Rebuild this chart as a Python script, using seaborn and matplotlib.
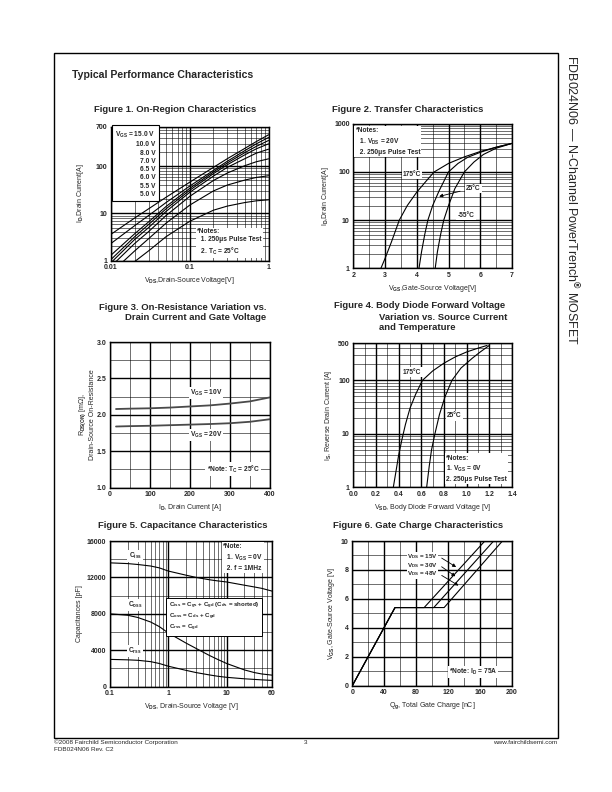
import numpy as np
import pandas as pd
import matplotlib
matplotlib.use("Agg")
import matplotlib.pyplot as plt
from matplotlib.ticker import NullFormatter
from matplotlib.patches import Rectangle
import seaborn as sns

# Figure 1: on-region characteristics (Vds [V] vs Id [A]) per Vgs
vds1 = [0.01, 0.02, 0.03, 0.05, 0.1, 0.2, 0.3, 0.5, 0.7, 1.0]
vgs1_names = ["15.0 V", "10.0 V", "8.0 V", "7.0 V", "6.5 V", "6.0 V", "5.5 V", "5.0 V"]
id1_15 = [3.6, 8.0, 12.5, 22, 46, 95, 145, 240, 335, 466]
id1_10 = [2.3, 5.5, 9.0, 17, 38, 82, 128, 215, 300, 409]
id1_8 = [1.3, 3.7, 6.6, 14, 34, 76, 118, 195, 265, 353]
id1_7 = [1.05, 3.2, 5.8, 12.5, 31, 70, 108, 175, 235, 300]
id1_65 = [0.9, 2.8, 5.0, 11, 28, 62, 95, 145, 190, 231]
id1_6 = [0.75, 2.3, 4.1, 9, 23, 50, 72, 103, 125, 144]
id1_55 = [0.55, 1.6, 2.9, 6.2, 15, 30, 40, 51, 58, 63]
id1_5 = [0.35, 0.95, 1.6, 3.2, 6.8, 11.7, 14.3, 17, 18.5, 19.4]

# Figure 2: transfer characteristics (Vgs [V] vs Id [A])
vgs2_175 = [2.87, 3.0, 3.2, 3.45, 3.7, 4.0, 4.3, 4.55, 5.0, 5.5, 6.0, 6.5, 7.0]
id2_175 = [1, 1.6, 3.5, 10, 20, 38, 65, 100, 150, 205, 265, 325, 390]
vgs2_25 = [4.07, 4.15, 4.25, 4.35, 4.5, 4.7, 5.0, 5.3, 5.6, 6.0, 6.5, 7.0]
id2_25 = [1, 2.2, 5, 10, 20, 40, 100, 150, 200, 255, 325, 390]
vgs2_m55 = [4.58, 4.65, 4.75, 4.85, 5.0, 5.2, 5.5, 5.8, 6.1, 6.5, 7.0]
id2_m55 = [1, 2.2, 5, 10, 20, 45, 100, 160, 230, 310, 390]

# Figure 3: on-resistance vs drain current
id3 = [15, 50, 100, 150, 200, 250, 300, 350, 400]
rds3_10v = [2.08, 2.085, 2.09, 2.10, 2.115, 2.13, 2.155, 2.185, 2.24]
rds3_20v = [1.84, 1.845, 1.85, 1.858, 1.866, 1.874, 1.885, 1.905, 1.94]

# Figure 4: body diode forward voltage (Vsd [V] vs Is [A])
vsd4_175 = [0.353, 0.38, 0.40, 0.43, 0.46, 0.50, 0.55, 0.61, 0.70, 0.80, 0.90, 1.00, 1.10, 1.18]
is4_175 = [1, 2.2, 4.0, 8, 15, 30, 55, 100, 150, 210, 275, 340, 400, 450]
vsd4_25 = [0.647, 0.67, 0.69, 0.72, 0.76, 0.81, 0.87, 0.95, 1.05, 1.12, 1.2]
is4_25 = [1, 2.5, 5, 10, 23, 50, 100, 170, 260, 340, 450]

# Figure 5: capacitance (Vds [V] vs C [pF])
vds5 = [0.1, 0.2, 0.3, 0.5, 0.7, 1, 2, 3, 5, 7, 10, 20, 30, 40, 60]
ciss5 = [13600, 13520, 13420, 13250, 13050, 12700, 12250, 12000, 11750, 11620, 11500, 11150, 10950, 10800, 10500]
coss5 = [8000, 7850, 7600, 7100, 6600, 5900, 4800, 4200, 3450, 3000, 2550, 1850, 1550, 1400, 1270]
crss5 = [3000, 2950, 2900, 2750, 2550, 2250, 1800, 1550, 1300, 1150, 1030, 870, 800, 750, 690]

# Figure 6: gate charge (Qg [nC] vs Vgs [V])
qg6_15 = [0, 53.5, 90, 166]
qg6_30 = [0, 53.5, 102, 177]
qg6_48 = [0, 53.5, 115, 188]
vgs6 = [0, 5.4, 5.4, 10]

# ---- style ----
sns.set_style("white")
plt.rcParams['font.family'] = ['Liberation Sans', 'DejaVu Sans']
plt.rcParams['font.weight'] = 'bold'
plt.rcParams['mathtext.fontset'] = 'custom'
plt.rcParams['mathtext.rm'] = 'Liberation Sans:bold'
plt.rcParams['mathtext.it'] = 'Liberation Sans:bold'
plt.rcParams['mathtext.bf'] = 'Liberation Sans:bold'

W, H = 612, 792
fig = plt.figure(figsize=(W / 100, H / 100), dpi=100)
FS = 5.0
WHITE = dict(facecolor='white', edgecolor='none', pad=0.8)


def px_axes(l, t, r, b):
    return fig.add_axes([l / W, 1 - b / H, (r - l) / W, (b - t) / H])


def px_text(x, y, s, **kw):
    return fig.text(x / W, 1 - y / H, s, **kw)


def frame(ax, xmaj, xmin, ymaj, ymin, xlabels=None, ylabels=None):
    ax.set_xticks(xmaj, labels=xlabels)
    ax.set_xticks(xmin, minor=True)
    ax.set_yticks(ymaj, labels=ylabels)
    ax.set_yticks(ymin, minor=True)
    ax.xaxis.set_minor_formatter(NullFormatter())
    ax.yaxis.set_minor_formatter(NullFormatter())
    ax.tick_params(which='both', length=0, labelsize=FS)
    ax.tick_params(axis='x', pad=2.6)
    ax.tick_params(axis='y', pad=2.6)
    ax.grid(which='major', color='black', lw=1.0)
    ax.grid(which='minor', color='black', lw=0.4)
    ax.set_axisbelow(True)
    for sp in ax.spines.values():
        sp.set_linewidth(1.0)
        sp.set_color('black')


def curves(ax, xs, ys, names, color='black', lw=0.8):
    df = pd.concat([pd.DataFrame({'x': x, 'y': y, 'c': n}) for x, y, n in zip(xs, ys, names)])
    sns.lineplot(data=df, x='x', y='y', hue='c', palette=[color] * len(names),
                 estimator=None, sort=False, legend=False, lw=lw, ax=ax)


# page frame and headers
fig.patches.append(Rectangle((54 / W, 1 - 738 / H), (558 - 54) / W, (738 - 53) / H,
                             transform=fig.transFigure, fill=False, lw=1.0, ec='black'))
px_text(72, 75, "Typical Performance Characteristics", fontsize=7.6, va='center')
px_text(572, 200, "FDB024N06 — N-Channel PowerTrench$^{®}$ MOSFET", fontsize=9.0,
        rotation=-90, ha='center', va='center', fontweight='normal')
px_text(54, 742, "©2008 Fairchild Semiconductor Corporation", fontsize=4.6, va='center', fontweight='normal')
px_text(54, 749.5, "FDB024N06 Rev. C2", fontsize=4.6, va='center', fontweight='normal')
px_text(306, 743, "3", fontsize=4.6, va='center', ha='center', fontweight='normal')
px_text(557, 742, "www.fairchildsemi.com", fontsize=4.6, va='center', ha='right', fontweight='normal')

# ---- Figure 1 ----
ax1 = px_axes(111, 126.5, 268.5, 260.5)
ax1.set_xscale('log')
ax1.set_yscale('log')
curves(ax1, [vds1] * 8, [id1_15, id1_10, id1_8, id1_7, id1_65, id1_6, id1_55, id1_5], vgs1_names)
ax1.set_xlim(0.01, 1)
ax1.set_ylim(1, 700)
frame(ax1, [0.01, 0.1, 1], [m * d for d in (0.01, 0.1) for m in range(2, 10)],
      [1, 10, 100, 700], [m * d for d in (1, 10, 100) for m in range(2, 10) if m * d < 700],
      ['0.01', '0.1', '1'], ['1', '10', '100', '700'])
ax1.set_xlabel(r"V$_{\rm DS}$,Drain-Source Voltage[V]", fontsize=FS, labelpad=3)
ax1.set_ylabel(r"I$_{\rm D}$,Drain Current[A]", fontsize=FS, labelpad=7)
ax1.text(0.0365, 590, "V$_{\\rm GS}$ = " + "\n".join(vgs1_names), fontsize=4.8, ha='right', va='top',
         multialignment='right', linespacing=1.25,
         bbox=dict(facecolor='white', edgecolor='black', lw=0.8, boxstyle='square,pad=0.5'))
ax1.text(0.125, 5.0, "*Notes:\n  1. 250μs Pulse Test\n  2. T$_{\\rm C}$ = 25°C", fontsize=4.8,
         ha='left', va='top', linespacing=1.35, bbox=WHITE)
px_text(94.5, 109, "Figure 1. On-Region Characteristics", fontsize=6.8, va='center')

# ---- Figure 2 ----
ax2 = px_axes(353.3, 123.7, 512, 268.3)
ax2.set_yscale('log')
curves(ax2, [vgs2_175, vgs2_25, vgs2_m55], [id2_175, id2_25, id2_m55], ['175', '25', '-55'])
ax2.set_xlim(2, 7)
ax2.set_ylim(1, 1000)
frame(ax2, [2, 3, 4, 5, 6, 7], [2.5, 3.5, 4.5, 5.5, 6.5],
      [1, 10, 100, 1000], [m * d for d in (1, 10, 100) for m in range(2, 10)],
      ['2', '3', '4', '5', '6', '7'], ['1', '10', '100', '1000'])
ax2.set_xlabel(r"V$_{\rm GS}$,Gate-Source Voltage[V]", fontsize=FS, labelpad=3)
ax2.set_ylabel(r"I$_{\rm D}$,Drain Current[A]", fontsize=FS, labelpad=2)
ax2.text(2.07, 850, "*Notes:\n  1. V$_{\\rm DS}$ = 20V\n  2. 250μs Pulse Test", fontsize=4.8,
         ha='left', va='top', linespacing=1.35, bbox=WHITE)
ax2.text(3.85, 88, "175°C", fontsize=4.8, ha='center', va='center', bbox=WHITE)
ax2.text(5.78, 46, "25°C", fontsize=4.8, ha='center', va='center', bbox=WHITE)
ax2.text(5.55, 12.5, "-55°C", fontsize=4.8, ha='center', va='center', bbox=WHITE)
ax2.annotate("", xy=(4.62, 30), xytext=(5.45, 41),
             arrowprops=dict(arrowstyle='-|>', color='black', lw=0.6, mutation_scale=5))
px_text(331.7, 109, "Figure 2. Transfer Characteristics", fontsize=6.8, va='center')

# ---- Figure 3 ----
ax3 = px_axes(110, 342, 270, 487.7)
curves(ax3, [id3, id3], [rds3_10v, rds3_20v], ['10V', '20V'], color='#4a4a4a', lw=1.3)
ax3.set_xlim(0, 400)
ax3.set_ylim(1.0, 3.0)
frame(ax3, [0, 100, 200, 300, 400], [50, 150, 250, 350],
      [1.0, 1.5, 2.0, 2.5, 3.0], [1.25, 1.75, 2.25, 2.75],
      ['0', '100', '200', '300', '400'], ['1.0', '1.5', '2.0', '2.5', '3.0'])
ax3.set_xlabel(r"I$_{\rm D}$, Drain Current [A]", fontsize=FS, labelpad=3)
ax3.set_ylabel("R$_{\\rm DS(ON)}$ [mΩ],\nDrain-Source On-Resistance", fontsize=FS, labelpad=0.5,
               linespacing=1.1)
ax3.text(240, 2.30, "V$_{\\rm GS}$ = 10V", fontsize=4.8, ha='center', va='center', bbox=WHITE)
ax3.text(240, 1.72, "V$_{\\rm GS}$ = 20V", fontsize=4.8, ha='center', va='center', bbox=WHITE)
ax3.text(308, 1.257, "*Note: T$_{\\rm C}$ = 25°C", fontsize=4.8, ha='center', va='center', bbox=WHITE)
px_text(99.3, 308, "Figure 3. On-Resistance Variation vs.", fontsize=6.8, va='center')
px_text(125, 317.5, "Drain Current and Gate Voltage", fontsize=6.8, va='center')

# ---- Figure 4 ----
ax4 = px_axes(353.3, 343, 512, 487.3)
ax4.set_yscale('log')
curves(ax4, [vsd4_175, vsd4_25], [is4_175, is4_25], ['175', '25'])
ax4.set_xlim(0, 1.4)
ax4.set_ylim(1, 500)
frame(ax4, [0, 0.2, 0.4, 0.6, 0.8, 1.0, 1.2, 1.4], [0.1, 0.3, 0.5, 0.7, 0.9, 1.1, 1.3],
      [1, 10, 100, 500], [m * d for d in (1, 10, 100) for m in range(2, 10) if m * d < 500],
      ['0.0', '0.2', '0.4', '0.6', '0.8', '1.0', '1.2', '1.4'], ['1', '10', '100', '500'])
ax4.set_xlabel(r"V$_{\rm SD}$, Body Diode Forward Voltage [V]", fontsize=FS, labelpad=3)
ax4.set_ylabel(r"I$_{\rm S}$, Reverse Drain Current [A]", fontsize=FS, labelpad=3)
ax4.text(0.52, 143, "175°C", fontsize=4.8, ha='center', va='center', bbox=WHITE)
ax4.text(0.89, 21.6, "25°C", fontsize=4.8, ha='center', va='center', bbox=WHITE)
ax4.text(0.82, 4.1, "*Notes:\n1. V$_{\\rm GS}$ = 0V\n2. 250μs Pulse Test", fontsize=4.8,
         ha='left', va='top', linespacing=1.35, bbox=WHITE)
px_text(334, 306, "Figure 4. Body Diode Forward Voltage", fontsize=6.8, va='center')
px_text(379, 317, "Variation vs. Source Current", fontsize=6.8, va='center')
px_text(379, 328, "and Temperature", fontsize=6.8, va='center')

# ---- Figure 5 ----
ax5 = px_axes(110, 541, 272, 686.7)
ax5.set_xscale('log')
curves(ax5, [vds5] * 3, [ciss5, coss5, crss5], ['Ciss', 'Coss', 'Crss'])
ax5.set_xlim(0.1, 60)
ax5.set_ylim(0, 16000)
frame(ax5, [0.1, 1, 10, 60], [m * d for d in (0.1, 1) for m in range(2, 10)] + [20, 30, 40, 50],
      [0, 4000, 8000, 12000, 16000], [2000, 6000, 10000, 14000],
      ['0.1', '1', '10', '60'], ['0', '4000', '8000', '12000', '16000'])
ax5.set_xlabel(r"V$_{\rm DS}$, Drain-Source Voltage [V]", fontsize=FS, labelpad=3)
ax5.set_ylabel("Capacitances [pF]", fontsize=FS, labelpad=3)
ax5.text(0.27, 14350, "C$_{\\rm iss}$", fontsize=4.8, ha='center', va='center', bbox=WHITE)
ax5.text(0.27, 8970, "C$_{\\rm oss}$", fontsize=4.8, ha='center', va='center', bbox=WHITE)
ax5.text(0.27, 3920, "C$_{\\rm rss}$", fontsize=4.8, ha='center', va='center', bbox=WHITE)
ax5.text(8.7, 15750, "*Note:\n  1. V$_{\\rm GS}$ = 0V\n  2. f = 1MHz", fontsize=4.8,
         ha='left', va='top', linespacing=1.35, bbox=WHITE)
ax5.text(1.02, 9450, "C$_{\\rm iss}$ = C$_{\\rm gs}$ + C$_{\\rm gd}$ (C$_{\\rm ds}$ = shorted)\n"
         "C$_{\\rm oss}$ = C$_{\\rm ds}$ + C$_{\\rm gd}$\nC$_{\\rm rss}$ = C$_{\\rm gd}$",
         fontsize=4.4, ha='left', va='top', linespacing=1.15,
         bbox=dict(facecolor='white', edgecolor='black', lw=0.7, boxstyle='square,pad=0.4'))
px_text(98.3, 525, "Figure 5. Capacitance Characteristics", fontsize=6.8, va='center')

# ---- Figure 6 ----
ax6 = px_axes(352.3, 541, 512, 685.7)
curves(ax6, [qg6_15, qg6_30, qg6_48], [vgs6] * 3, ['15V', '30V', '48V'])
ax6.set_xlim(0, 200)
ax6.set_ylim(0, 10)
frame(ax6, [0, 40, 80, 120, 160, 200], [20, 60, 100, 140, 180],
      [0, 2, 4, 6, 8, 10], [1, 3, 5, 7, 9],
      ['0', '40', '80', '120', '160', '200'], ['0', '2', '4', '6', '8', '10'])
ax6.set_xlabel(r"Q$_{\rm g}$, Total Gate Charge [nC]", fontsize=FS, labelpad=3)
ax6.set_ylabel(r"V$_{\rm GS}$, Gate-Source Voltage [V]", fontsize=FS, labelpad=3)
for lab, ty, hx, hy in [("15V", 8.92, 133, 8.1), ("30V", 8.33, 132, 7.45), ("48V", 7.72, 136, 6.82)]:
    ax6.text(68.5, ty, "V$_{\\rm DS}$ = " + lab, fontsize=4.5, ha='left', va='center',
             bbox=dict(facecolor='white', edgecolor='none', pad=0.1))
    ax6.annotate("", xy=(hx, hy), xytext=(109, ty),
                 arrowprops=dict(arrowstyle='-|>', color='black', lw=0.6, mutation_scale=5))
ax6.text(151, 0.95, "*Note: I$_{\\rm D}$ = 75A", fontsize=4.8, ha='center', va='center', bbox=WHITE)
px_text(333.3, 526, "Figure 6. Gate Charge Characteristics", fontsize=6.8, va='center')

fig.savefig("out.png", dpi=100)
